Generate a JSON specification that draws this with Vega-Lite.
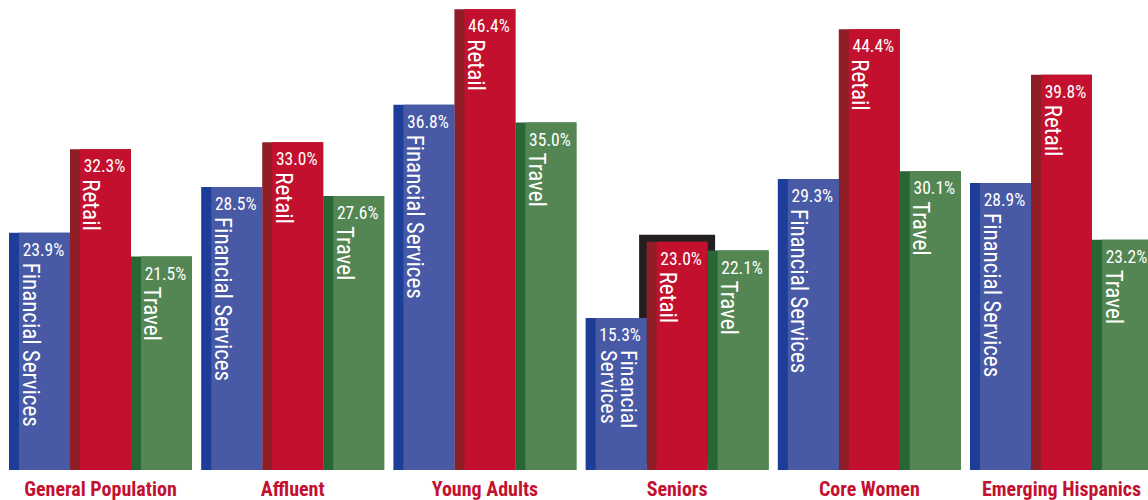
{
  "$schema": "https://vega.github.io/schema/vega-lite/v6.json",
  "width": 1148,
  "height": 470,
  "autosize": {"type": "none"},
  "padding": {"top": 0, "left": 0, "right": 0, "bottom": 30},
  "background": "white",
  "config": {"view": {"stroke": null}},
  "data": {
    "values": [
      {"group": "General Population", "category": "Financial Services", "label": "Financial Services", "value": 23.9},
      {"group": "General Population", "category": "Retail", "label": "Retail", "value": 32.3},
      {"group": "General Population", "category": "Travel", "label": "Travel", "value": 21.5},
      {"group": "Affluent", "category": "Financial Services", "label": "Financial Services", "value": 28.5},
      {"group": "Affluent", "category": "Retail", "label": "Retail", "value": 33.0},
      {"group": "Affluent", "category": "Travel", "label": "Travel", "value": 27.6},
      {"group": "Young Adults", "category": "Financial Services", "label": "Financial Services", "value": 36.8},
      {"group": "Young Adults", "category": "Retail", "label": "Retail", "value": 46.4},
      {"group": "Young Adults", "category": "Travel", "label": "Travel", "value": 35.0},
      {"group": "Seniors", "category": "Financial Services", "label": "Financial\nServices", "value": 15.3},
      {"group": "Seniors", "category": "Retail", "label": "Retail", "value": 23.0},
      {"group": "Seniors", "category": "Travel", "label": "Travel", "value": 22.1},
      {"group": "Core Women", "category": "Financial Services", "label": "Financial Services", "value": 29.3},
      {"group": "Core Women", "category": "Retail", "label": "Retail", "value": 44.4},
      {"group": "Core Women", "category": "Travel", "label": "Travel", "value": 30.1},
      {"group": "Emerging Hispanics", "category": "Financial Services", "label": "Financial Services", "value": 28.9},
      {"group": "Emerging Hispanics", "category": "Retail", "label": "Retail", "value": 39.8},
      {"group": "Emerging Hispanics", "category": "Travel", "label": "Travel", "value": 23.2}
    ]
  },
  "encoding": {
    "x": {
      "field": "group",
      "type": "nominal",
      "sort": ["General Population", "Affluent", "Young Adults", "Seniors", "Core Women", "Emerging Hispanics"],
      "scale": {"type": "band", "range": [9, 1153], "paddingInner": 0.0479, "paddingOuter": 0},
      "axis": {
        "title": null,
        "ticks": false,
        "tickSize": 0,
        "domain": false,
        "labelAngle": 0,
        "labelBaseline": "alphabetic",
        "labelPadding": 25,
        "labelLimit": 0,
        "labelFont": "Roboto Condensed, Roboto",
        "labelFontWeight": "bold",
        "labelFontSize": 20,
        "labelColor": "#c3112f"
      }
    },
    "y": {
      "field": "value",
      "type": "quantitative",
      "scale": {"domain": [0, 47.34], "nice": false, "zero": true},
      "axis": null
    }
  },
  "layer": [
    {
      "transform": [{"filter": "datum.group === 'Seniors' && datum.category === 'Retail'"}],
      "mark": {"type": "bar", "color": "#231f20", "width": 76, "yOffset": -7},
      "encoding": {
        "xOffset": {"field": "category", "type": "nominal", "scale": {"type": "band", "domain": ["Financial Services", "Retail", "Travel"], "paddingInner": 0, "paddingOuter": 0}}
      }
    },
    {
      "mark": {"type": "bar", "width": {"band": 1}},
      "encoding": {
        "xOffset": {"field": "category", "type": "nominal", "scale": {"type": "band", "domain": ["Financial Services", "Retail", "Travel"], "paddingInner": 0, "paddingOuter": 0}},
        "color": {"field": "category", "type": "nominal", "legend": null, "scale": {"domain": ["Financial Services", "Retail", "Travel"], "range": ["#1d3e98", "#8f1e27", "#2a6535"]}}
      }
    },
    {
      "mark": {"type": "bar", "width": {"band": 1}},
      "encoding": {
        "xOffset": {"field": "category", "type": "nominal", "scale": {"type": "band", "domain": ["Financial Services", "Retail", "Travel"], "paddingInner": 0.164, "paddingOuter": 0.082, "align": 1}},
        "color": {"field": "category", "type": "nominal", "legend": null, "scale": {"domain": ["Financial Services", "Retail", "Travel"], "range": ["#4859a5", "#c2102e", "#548653"]}}
      }
    },
    {
      "transform": [{"calculate": "format(datum.value, '.1f') + '%'", "as": "valueLabel"}],
      "mark": {"type": "text", "align": "left", "baseline": "alphabetic", "dx": -21.8, "dy": 23, "font": "Roboto Condensed, Roboto", "fontSize": 17.5, "color": "white"},
      "encoding": {
        "xOffset": {"field": "category", "type": "nominal", "scale": {"type": "band", "domain": ["Financial Services", "Retail", "Travel"], "paddingInner": 0.164, "paddingOuter": 0.082, "align": 1}},
        "text": {"field": "valueLabel", "type": "nominal"}
      }
    },
    {
      "transform": [{"filter": "indexof(datum.label, '\\n') < 0"}],
      "mark": {"type": "text", "align": "left", "baseline": "bottom", "angle": 90, "dx": 30, "dy": 27, "font": "Roboto Condensed, Roboto", "fontSize": 23, "color": "white"},
      "encoding": {
        "xOffset": {"field": "category", "type": "nominal", "scale": {"type": "band", "domain": ["Financial Services", "Retail", "Travel"], "paddingInner": 0.164, "paddingOuter": 0.082, "align": 1}},
        "text": {"field": "label", "type": "nominal"}
      }
    },
    {
      "transform": [{"filter": "indexof(datum.label, '\\n') >= 0"}],
      "mark": {"type": "text", "align": "left", "baseline": "bottom", "angle": 90, "dx": 32, "dy": 5, "lineBreak": "\n", "lineHeight": 20, "font": "Roboto Condensed, Roboto", "fontSize": 22, "color": "white"},
      "encoding": {
        "xOffset": {"field": "category", "type": "nominal", "scale": {"type": "band", "domain": ["Financial Services", "Retail", "Travel"], "paddingInner": 0.164, "paddingOuter": 0.082, "align": 1}},
        "text": {"field": "label", "type": "nominal"}
      }
    }
  ],
  "resolve": {"scale": {"xOffset": "independent", "color": "independent"}}
}
